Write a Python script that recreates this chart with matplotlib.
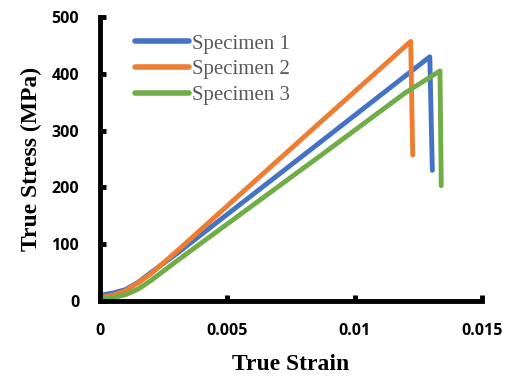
import matplotlib
matplotlib.use("Agg")
import matplotlib.pyplot as plt

# Data (true strain, true stress MPa)
strain_1 = [0.0, 0.0005, 0.001, 0.0015, 0.002, 0.003, 0.00866, 0.01295, 0.01305]
stress_1 = [10, 14, 20, 33, 50, 83, 280, 430, 230]

strain_2 = [0.0, 0.0005, 0.001, 0.0015, 0.002, 0.003, 0.00866, 0.0122, 0.01228]
stress_2 = [6, 10, 18, 32, 48, 87, 315, 457, 257]

strain_3 = [0.0, 0.0005, 0.001, 0.0015, 0.002, 0.003, 0.00866, 0.012, 0.01335, 0.0134]
stress_3 = [3, 6, 11, 21, 36, 70, 256, 367, 405, 203]

labels = ["Specimen 1", "Specimen 2", "Specimen 3"]
colors = ["#4472C4", "#ED7D31", "#70AD47"]
xticks = [0, 0.005, 0.01, 0.015]
xticklabels = ["0", "0.005", "0.01", "0.015"]
yticks = [0, 100, 200, 300, 400, 500]

fig = plt.figure(figsize=(5.08, 3.76), dpi=100)
ax = fig.add_axes([100/508, 1-301/376, 382/508, 284/376])

for x, y, lab, c in zip([strain_1, strain_2, strain_3], [stress_1, stress_2, stress_3], labels, colors):
    ax.plot(x, y, color=c, lw=3.5, label=lab, solid_capstyle='round', solid_joinstyle='round')

ax.set_xlim(0, 0.015)
ax.set_ylim(0, 500)
ax.set_xticks(xticks)
ax.set_xticklabels(xticklabels)
ax.set_yticks(yticks)

for s in ["top", "right"]:
    ax.spines[s].set_visible(False)
for s in ["left", "bottom"]:
    ax.spines[s].set_linewidth(3.5)
    ax.spines[s].set_color("black")

ax.tick_params(direction="in", length=4, width=3.5, colors="black")
ax.tick_params(axis="x", pad=16)
ax.tick_params(axis="y", pad=15)
for t in ax.get_xticklabels() + ax.get_yticklabels():
    t.set_fontfamily("Open Sans")
    t.set_fontweight("bold")
    t.set_fontsize(11.5)

ax.set_xlabel("True Strain", fontfamily="Liberation Serif", fontweight="bold", fontsize=17, labelpad=11)
ax.set_ylabel("True Stress (MPa)", fontfamily="Liberation Serif", fontweight="bold", fontsize=17, labelpad=7)

leg = ax.legend(loc="upper left", bbox_to_anchor=(135/508, 1-34/376), bbox_transform=fig.transFigure,
                frameon=False, prop={"family": "Liberation Serif", "size": 15},
                handlelength=2.6, handletextpad=0.12, labelspacing=0.3, borderpad=0, borderaxespad=0)
for t in leg.get_texts():
    t.set_color("#595959")
for h in leg.get_lines():
    h.set_linewidth(4)

fig.savefig("out.png", dpi=100)
